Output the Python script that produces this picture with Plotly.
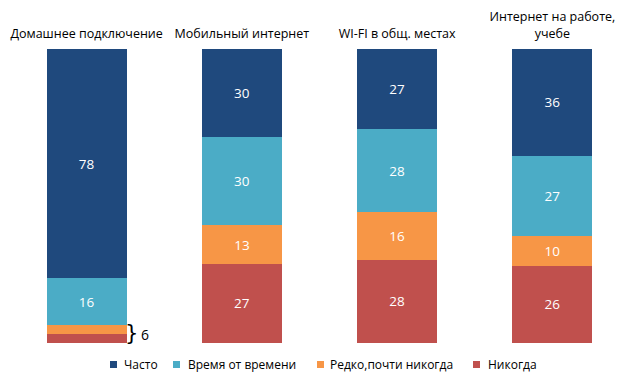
import plotly.graph_objects as go

categories = ["Домашнее подключение", "Мобильный интернет", "WI-FI в общ. местах", "Интернет на работе,<br>учебе"]
series_names = ["Часто", "Время от времени", "Редко,почти никогда", "Никогда"]
often = [78, 30, 27, 36]
sometimes = [16, 30, 28, 27]
rarely = [3, 13, 16, 10]
never = [3, 27, 28, 26]
rare_never_home_label = "6"
colors = ["#1F497D", "#4BACC6", "#F79646", "#C0504D"]

W, H = 640, 381
L, R, T, B = 1, 18, 41, 46
PW, PH = W - L - R, H - T - B

def px(x):
    return (x - L) / PW

def py(y):
    return (H - B - y) / PH

fig = go.Figure()
stack = [(series_names[3], never, colors[3]),
         (series_names[2], rarely, colors[2]),
         (series_names[1], sometimes, colors[1]),
         (series_names[0], often, colors[0])]
for name, vals, col in stack:
    txt = [str(v) if v >= 5 else "" for v in vals]
    fig.add_trace(go.Bar(
        x=categories, y=vals, name=name, marker=dict(color=col, line=dict(width=0)),
        text=txt, textposition="inside", insidetextanchor="middle",
        textfont=dict(color="white", size=13.5, family="Open Sans"),
        hoverinfo="skip", cliponaxis=False, showlegend=False,
    ))

fig.add_annotation(x=categories[0], y=3, xref="x", yref="y", text="}", showarrow=False,
                   xshift=45, yshift=1, font=dict(size=21, color="black", family="DejaVu Sans"))
fig.add_annotation(x=categories[0], y=3, xref="x", yref="y", text=rare_never_home_label, showarrow=False,
                   xshift=58, font=dict(size=14, color="black", family="Open Sans"))

# manual legend (small squares + labels)
leg_marker_x = [102, 165, 309, 465]
leg_text_x = [114, 178, 320, 478]
for name, col, mx, tx in zip(series_names, colors, leg_marker_x, leg_text_x):
    fig.add_shape(type="rect", xref="paper", yref="paper",
                  x0=px(mx), x1=px(mx + 7), y0=py(360), y1=py(353),
                  fillcolor=col, line=dict(width=0))
    fig.add_annotation(xref="paper", yref="paper", x=px(tx), y=py(356.5), text=name,
                       xanchor="left", yanchor="middle", showarrow=False,
                       font=dict(size=12, family="Open Sans", color="#000"))

fig.update_layout(
    barmode="stack", barnorm="percent", bargap=0.485,
    width=W, height=H,
    margin=dict(l=L, r=R, t=T, b=B, autoexpand=False),
    paper_bgcolor="white", plot_bgcolor="white",
    showlegend=False,
    xaxis=dict(side="top", showline=False, showgrid=False, ticks="", ticklabelstandoff=8,
               automargin=False,
               tickfont=dict(size=12.5, family="Open Sans", color="#000")),
    yaxis=dict(range=[0, 100], visible=False, showgrid=False, automargin=False),
    font=dict(family="Open Sans"),
)
fig.write_html("out.html")
